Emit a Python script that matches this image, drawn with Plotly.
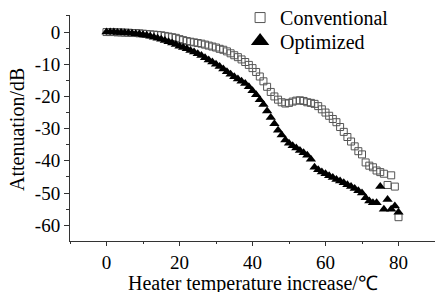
import plotly.graph_objects as go

# ---- data ----
temp = list(range(0, 81))

conventional = [
    0, 0, 0, -0.1, -0.1, -0.2, -0.2, -0.3, -0.3, -0.4,
    -0.5, -0.6, -0.7, -0.8, -0.9, -1.0, -1.2, -1.4, -1.6, -1.8,
    -2.2, -2.5, -2.8, -3.0, -3.2, -3.4, -3.6, -3.9, -4.2, -4.5,
    -4.8, -5.2, -5.5, -6.0, -6.6, -7.2, -7.8, -8.5, -9.3, -10.2,
    -11.2, -12.4, -13.8, -15.3, -17.0, -18.6, -20.0, -21.0, -21.8, -22.2,
    -22.0, -21.6, -21.3, -21.2, -21.4, -21.8, -22.0, -22.3, -23.0, -24.0,
    -25.0, -26.0, -27.0, -28.0, -29.5, -31.0, -32.6, -34.0, -35.5, -37.0,
    -38.0, -40.5, -41.5, -42.0, -43.0, -43.5, -44.0, -47.5, -44.5, -48.0,
    -57.5,
]

optimized = [
    0, 0, 0, -0.1, -0.1, -0.2, -0.3, -0.4, -0.5, -0.6,
    -0.8, -1.0, -1.3, -1.6, -1.9, -2.2, -2.6, -3.0, -3.4, -3.9,
    -4.4, -4.8, -5.2, -5.7, -6.2, -6.7, -7.3, -8.0, -8.7, -9.3,
    -10.0, -10.7, -11.5, -12.3, -13.1, -13.9, -14.6, -15.3, -16.0, -17.0,
    -18.2, -19.5, -21.0, -22.5, -24.5, -26.5, -28.5, -30.5, -32.0, -33.5,
    -34.5, -35.3, -36.0, -36.8, -37.5, -38.3, -39.5, -42.0, -42.8, -43.5,
    -44.0, -44.6, -45.2, -45.8, -46.3, -46.8, -47.4, -48.0, -48.6, -49.3,
    -50.0, -51.5, -52.5, -53.0, -53.0, -48.0, -55.0, -52.0, -55.0, -54.0,
    -56.0,
]

x_ticks = [0, 20, 40, 60, 80]
x_ticktext = ["0", "20", "40", "60", "80"]
y_ticks = [0, -10, -20, -30, -40, -50, -60]
y_ticktext = ["0", "-10", "-20", "-30", "-40", "-50", "-60"]

series_names = ["Conventional", "Optimized"]
x_title = "Heater temperature increase/℃"
y_title = "Attenuation/dB"

FONT = "Liberation Serif"
AX = "#333333"

fig = go.Figure()
fig.add_trace(go.Scatter(
    x=temp, y=conventional, mode="markers", showlegend=False,
    marker=dict(symbol="square-open", size=7, color="#555555", line=dict(width=1)),
))
fig.add_trace(go.Scatter(
    x=temp, y=optimized, mode="markers", showlegend=False,
    marker=dict(symbol="triangle-up", size=9, color="black"),
))
# legend entries (one legend box per entry for exact row spacing)
fig.add_trace(go.Scatter(
    x=[None], y=[None], mode="markers", name=series_names[0], legend="legend",
    marker=dict(symbol="square-open", size=10, color="#555555", line=dict(width=1)),
))
fig.add_trace(go.Scatter(
    x=[None], y=[None], mode="markers", name=series_names[1], legend="legend2",
    marker=dict(symbol="triangle-up", size=16, color="black"),
))

legend_style = dict(xanchor="left", yanchor="top", bgcolor="rgba(0,0,0,0)",
                    font=dict(size=20, family=FONT), itemsizing="trace")

fig.update_layout(
    width=435, height=292,
    margin=dict(l=70, r=0, t=15, b=51, autoexpand=False),
    paper_bgcolor="white", plot_bgcolor="white",
    font=dict(family=FONT, size=19, color="black"),
    legend=dict(x=0.466, y=1.075, **legend_style),
    legend2=dict(x=0.466, y=0.971, **legend_style),
    xaxis=dict(range=[-10, 90], showgrid=False, zeroline=False,
               showline=True, linecolor=AX, linewidth=1,
               ticks="outside", ticklen=4, tickcolor=AX,
               tickvals=x_ticks, ticktext=x_ticktext,
               minor=dict(dtick=10, ticks="outside", ticklen=2, tickcolor=AX),
               tickfont=dict(size=19, family=FONT), automargin=False),
    yaxis=dict(range=[-64.9, 5.3], showgrid=False, zeroline=False,
               showline=True, linecolor=AX, linewidth=1,
               ticks="outside", ticklen=5, tickcolor=AX,
               tickvals=y_ticks, ticktext=y_ticktext,
               minor=dict(dtick=5, ticks="outside", ticklen=3, tickcolor=AX),
               tickfont=dict(size=19, family=FONT), automargin=False),
    annotations=[
        dict(text=x_title, xref="x", yref="paper", x=40, y=0,
             xanchor="center", yanchor="middle", yshift=-42, showarrow=False,
             font=dict(size=20, family=FONT)),
        dict(text=y_title, xref="paper", yref="paper", x=0, y=0.491,
             xanchor="center", yanchor="middle", xshift=-53, textangle=-90,
             showarrow=False, font=dict(size=20, family=FONT)),
    ],
)

fig.write_html("out.html", config={"displayModeBar": False},
               post_script="document.body.style.margin='0';document.body.style.padding='0';")
